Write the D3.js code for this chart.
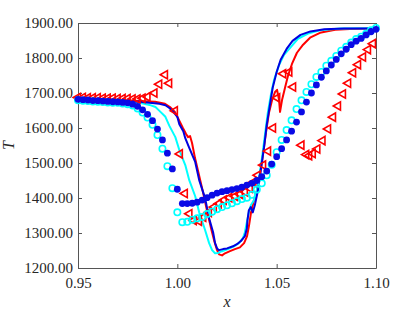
<!DOCTYPE html>
<html>
<head>
<meta charset="utf-8">
<title>T vs x</title>
<script src="https://cdn.jsdelivr.net/npm/d3@7"></script>
<style>
  body { margin: 0; background: #fff; }
  svg { display: block; }
  .axis path, .axis line { stroke: #555; stroke-width: 1; }
</style>
</head>
<body>
<svg id="svg"></svg>
<script>
// tick values
var xTicks = [0.95, 1.00, 1.05, 1.10];
var yTicks = [1200, 1300, 1400, 1500, 1600, 1700, 1800, 1900];

// marker series (blue dots and cyan circles share x positions)
var dotX = [0.95, 0.9525, 0.955, 0.9575, 0.96, 0.9625, 0.965, 0.9675, 0.97, 0.9725,
            0.975, 0.9775, 0.98, 0.9825, 0.985, 0.9875, 0.99, 0.9925, 0.995, 0.9975,
            1.00, 1.0025, 1.005, 1.0075, 1.01, 1.0125, 1.015, 1.0175, 1.02, 1.0225,
            1.025, 1.0275, 1.03, 1.0325, 1.035, 1.0375, 1.04, 1.0425, 1.045, 1.0475,
            1.05, 1.0525, 1.055, 1.0575, 1.06, 1.0625, 1.065, 1.0675, 1.07, 1.0725,
            1.075, 1.0775, 1.08, 1.0825, 1.085, 1.0875, 1.09, 1.0925, 1.095, 1.0975, 1.10];
var blueDots = [1682, 1681, 1680, 1678.5, 1678, 1677, 1676, 1675, 1674.5, 1673,
                1672, 1668, 1662, 1652, 1639, 1621, 1597, 1566, 1528, 1483,
                1425, 1384, 1384, 1385, 1388, 1394, 1401, 1408, 1414, 1418,
                1421, 1424, 1427, 1431, 1437, 1442, 1450, 1461, 1477, 1497,
                1518, 1541, 1566, 1591, 1617, 1646, 1674, 1700, 1723, 1745,
                1763, 1780, 1796, 1812, 1825, 1838, 1848, 1856, 1866, 1875, 1882];
var cyanDots = [1679, 1678, 1677, 1676, 1675, 1674, 1673, 1672, 1672, 1670,
                1668, 1664, 1656, 1644, 1630, 1609, 1580, 1541, 1491, 1428,
                1359, 1331, 1332, 1338, 1342, 1346, 1354, 1361, 1368, 1374,
                1379, 1385, 1391, 1397, 1401, 1409, 1424, 1442, 1465, 1495,
                1531, 1566, 1594, 1622, 1654, 1679, 1703, 1725, 1746, 1760,
                1778, 1792, 1806, 1821, 1832, 1844, 1854, 1861, 1869, 1879, 1886];

var triX = [0.95, 0.9525, 0.955, 0.9575, 0.96, 0.9625, 0.965, 0.9675, 0.97, 0.9725,
            0.975, 0.9775, 0.98, 0.9825, 0.985, 0.9885, 0.9909, 0.9938, 0.9959, 0.9988,
            1.0013, 1.0038, 1.0061, 1.0083, 1.0109, 1.0131, 1.0159, 1.0184, 1.0209, 1.0234,
            1.0262, 1.029, 1.0315, 1.034, 1.0365, 1.0383, 1.0405, 1.0432, 1.0457, 1.0482,
            1.0503, 1.0533, 1.0564, 1.0583, 1.0625, 1.0649, 1.0664, 1.0682, 1.0705, 1.0731,
            1.0759, 1.0784, 1.0809, 1.0834, 1.086, 1.0885, 1.091, 1.0935, 1.096, 1.0985];
var triT = [1687, 1687, 1686, 1686, 1686, 1685, 1685, 1685, 1684, 1684,
            1684, 1683, 1683, 1685, 1689, 1700, 1725, 1752, 1728, 1649,
            1526, 1413, 1355, 1336, 1334, 1345, 1359, 1374, 1384, 1394,
            1401, 1405, 1411, 1418, 1428, 1445, 1465, 1494, 1534, 1600,
            1686, 1755, 1760, 1717, 1551, 1524, 1521, 1527, 1540, 1564,
            1597, 1631, 1663, 1697, 1728, 1758, 1781, 1803, 1824, 1841];

// solid curves
var redLineX = [0.95, 0.961, 0.971, 0.981, 0.9888, 0.9938, 0.9963, 0.9988, 1.0008, 1.0028,
                1.0044, 1.0054, 1.0064, 1.0074, 1.0089, 1.0109, 1.0129, 1.0149, 1.017, 1.0185,
                1.02, 1.021, 1.0225, 1.024, 1.0265, 1.029, 1.0315, 1.0336, 1.0351, 1.0361,
                1.0371, 1.0386, 1.0401, 1.0416, 1.0431, 1.0446, 1.0461, 1.0477, 1.0492, 1.0502,
                1.0512, 1.0517, 1.0527, 1.0542, 1.0557, 1.0577, 1.0602, 1.0633, 1.0668, 1.0718,
                1.0794, 1.0869, 1.10];
var redLineT = [1683, 1682, 1680, 1677, 1675, 1669, 1660, 1646, 1623, 1600,
                1583, 1574, 1577, 1557, 1514, 1466, 1417, 1365, 1313, 1279,
                1251, 1239, 1236, 1242, 1248, 1254, 1259, 1271, 1291, 1322,
                1359, 1394, 1422, 1466, 1523, 1586, 1643, 1680, 1703, 1709,
                1680, 1646, 1680, 1715, 1749, 1783, 1815, 1838, 1858, 1872,
                1881, 1883, 1884];

var blueLineX = [0.95, 0.956, 0.961, 0.966, 0.971, 0.976, 0.981, 0.986, 0.991, 0.994,
                 0.996, 0.998, 1.000, 1.001, 1.003, 1.004, 1.006, 1.009, 1.011, 1.014,
                 1.016, 1.018, 1.019, 1.020, 1.021, 1.023, 1.025, 1.028, 1.030, 1.032,
                 1.034, 1.035, 1.0353, 1.036, 1.037, 1.038, 1.039, 1.0406, 1.042, 1.0436,
                 1.045, 1.0466, 1.048, 1.050, 1.052, 1.055, 1.058, 1.062, 1.067, 1.074,
                 1.084, 1.10];
var blueLineT = [1682, 1680, 1679, 1679, 1677, 1676, 1675, 1672, 1669, 1665,
                 1657, 1646, 1632, 1611, 1591, 1571, 1543, 1503, 1451, 1399,
                 1342, 1302, 1271, 1256, 1251, 1254, 1256, 1262, 1268, 1277,
                 1291, 1313, 1336, 1365, 1374, 1359, 1379, 1422, 1480, 1543,
                 1609, 1666, 1715, 1760, 1795, 1826, 1849, 1866, 1876, 1882,
                 1884, 1884];

var cyanLineX = [0.95, 0.961, 0.971, 0.981, 0.986, 0.989, 0.991, 0.994, 0.996, 0.999,
                 1.001, 1.004, 1.006, 1.009, 1.011, 1.014, 1.016, 1.0175, 1.019, 1.0205,
                 1.0225, 1.0255, 1.0285, 1.031, 1.033, 1.034, 1.035, 1.036, 1.037, 1.0386,
                 1.0396, 1.0411, 1.0426, 1.0441, 1.0456, 1.0471, 1.0487, 1.0512, 1.0537, 1.0572,
                 1.0607, 1.0658, 1.0718, 1.0819, 1.10];
var cyanLineT = [1680, 1679, 1676, 1672, 1666, 1660, 1649, 1632, 1606, 1574,
                 1537, 1494, 1451, 1405, 1359, 1308, 1271, 1251, 1242, 1243,
                 1248, 1254, 1262, 1271, 1285, 1302, 1331, 1359, 1379, 1394,
                 1408, 1457, 1514, 1580, 1646, 1695, 1738, 1780, 1809, 1832,
                 1855, 1870, 1879, 1884, 1885];

var width = 415, height = 312,
    margin = {top: 23, right: 39, bottom: 44, left: 78};
var serif = "'Liberation Serif', 'Times New Roman', 'DejaVu Serif', serif";

var svg = d3.select("#svg").attr("width", width).attr("height", height);

var x = d3.scaleLinear().domain([0.95, 1.10]).range([margin.left, width - margin.right]);
var y = d3.scaleLinear().domain([1200, 1900]).range([height - margin.bottom, margin.top]);

// box axes, ticks pointing inward
svg.append("g").attr("class", "axis")
    .attr("transform", "translate(0," + (height - margin.bottom) + ")")
    .call(d3.axisBottom(x).tickValues(xTicks).tickFormat(d3.format(".2f"))
        .tickSizeInner(-4).tickSizeOuter(0).tickPadding(9));
svg.append("g").attr("class", "axis")
    .attr("transform", "translate(0," + margin.top + ")")
    .call(d3.axisTop(x).tickValues(xTicks).tickFormat("")
        .tickSizeInner(-4).tickSizeOuter(0));
svg.append("g").attr("class", "axis")
    .attr("transform", "translate(" + margin.left + ",0)")
    .call(d3.axisLeft(y).tickValues(yTicks).tickFormat(d3.format(".2f"))
        .tickSizeInner(-4).tickSizeOuter(0).tickPadding(5));
svg.append("g").attr("class", "axis")
    .attr("transform", "translate(" + (width - margin.right) + ",0)")
    .call(d3.axisRight(y).tickValues(yTicks).tickFormat("")
        .tickSizeInner(-4).tickSizeOuter(0));
svg.selectAll(".axis text")
    .style("font-family", serif)
    .style("font-size", "15px")
    .style("fill", "#262626");

// axis labels
svg.append("text")
    .attr("x", (margin.left + width - margin.right) / 2)
    .attr("y", 307)
    .attr("text-anchor", "middle")
    .style("font-family", serif).style("font-style", "italic").style("font-size", "16px")
    .style("fill", "#262626")
    .text("x");
svg.append("text")
    .attr("transform", "translate(14," + ((margin.top + height - margin.bottom) / 2) + ")rotate(-90)")
    .attr("text-anchor", "middle")
    .style("font-family", serif).style("font-style", "italic").style("font-size", "16px")
    .style("fill", "#262626")
    .text("T");

// curves
var line = d3.line().x(function(d) { return x(d[0]); }).y(function(d) { return y(d[1]); });

function drawLine(xs, ts, color) {
    svg.append("path")
        .datum(d3.zip(xs, ts))
        .attr("d", line)
        .attr("fill", "none")
        .attr("stroke", color)
        .attr("stroke-width", 2)
        .attr("stroke-linejoin", "round");
}
drawLine(redLineX, redLineT, "#ff0000");
drawLine(cyanLineX, cyanLineT, "#00ffff");
drawLine(blueLineX, blueLineT, "#0000e0");

// red left-pointing triangles
var tri = d3.symbol().type(d3.symbolTriangle).size(30);
svg.append("g").selectAll("path")
    .data(d3.zip(triX, triT))
    .enter().append("path")
    .attr("d", tri)
    .attr("transform", function(d) { return "translate(" + x(d[0]) + "," + y(d[1]) + ")rotate(-90)"; })
    .attr("fill", "none")
    .attr("stroke", "#ff0000")
    .attr("stroke-width", 1.6);

// cyan open circles
svg.append("g").selectAll("circle")
    .data(d3.zip(dotX, cyanDots))
    .enter().append("circle")
    .attr("cx", function(d) { return x(d[0]); })
    .attr("cy", function(d) { return y(d[1]); })
    .attr("r", 3.2)
    .attr("fill", "none")
    .attr("stroke", "#00ffff")
    .attr("stroke-width", 1.6);

// blue filled dots
svg.append("g").selectAll("circle")
    .data(d3.zip(dotX, blueDots))
    .enter().append("circle")
    .attr("cx", function(d) { return x(d[0]); })
    .attr("cy", function(d) { return y(d[1]); })
    .attr("r", 3.4)
    .attr("fill", "#0a0ae6");
</script>
</body>
</html>
